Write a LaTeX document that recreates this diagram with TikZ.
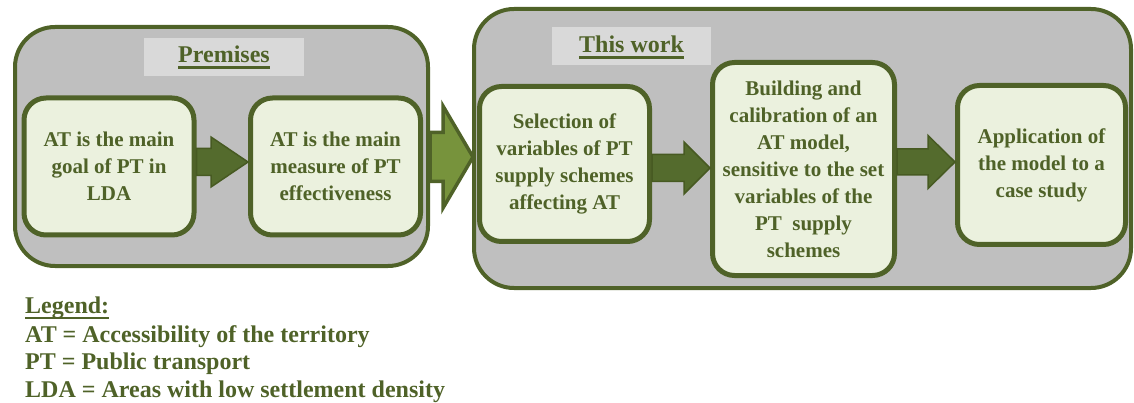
\documentclass[tikz,border=0pt]{standalone}
\usepackage{fontspec}
\setmainfont{Liberation Serif}
\usetikzlibrary{calc}
\definecolor{dkgreen}{HTML}{4F6228}
\definecolor{ltgreen}{HTML}{77933C}
\definecolor{arrgreen}{HTML}{546B2D}
\definecolor{arredge}{HTML}{475A22}
\definecolor{outergray}{HTML}{BFBFBF}
\definecolor{hdrgray}{HTML}{D9D9D9}
\definecolor{boxfill}{HTML}{EBF1DE}
\newcommand\boxfont{\bfseries\fontsize{21}{27}\selectfont}
\newcommand\hdrfont{\bfseries\fontsize{24}{28}\selectfont}
\newcommand\blockarrow[6]{%
  \path[#1] let \p1=(#2), \p2=(#3) in
    (\x1,\y1+#4) -- (\x2-#6,\y1+#4) -- (\x2-#6,\y1+#5) -- (\x2,\y1)
    -- (\x2-#6,\y1-#5) -- (\x2-#6,\y1-#4) -- (\x1,\y1-#4) -- cycle;}
\begin{document}
\begin{tikzpicture}[x=1pt,y=-1pt,
  outerbox/.style={draw=dkgreen, line width=4pt, fill=outergray, rounded corners=40pt, inner sep=0pt},
  hdrbox/.style={fill=hdrgray, inner sep=0pt},
  hdrtext/.style={inner sep=0pt, anchor=base, font=\hdrfont, text=dkgreen},
  uline/.style={draw=dkgreen, line width=3pt},
  inbox/.style={draw=dkgreen, line width=5pt, fill=boxfill, rounded corners=22pt, inner sep=0pt, align=center, font=\boxfont, text=dkgreen},
  smallarrow/.style={fill=arrgreen, draw=arredge, line width=1.5pt, line join=miter},
  bigarrow/.style={fill=ltgreen, draw=dkgreen, line width=3.5pt, line join=miter},
  legtext/.style={inner sep=0pt, anchor=base west, font=\hdrfont, text=dkgreen}
]
\useasboundingbox (0,0) rectangle (1134,403);

% outer groups
\node[outerbox, minimum width=413pt, minimum height=239pt] (prem) at (221.5,146.5) {};
\node[outerbox, minimum width=657pt, minimum height=279pt] (work) at (802.5,148.5) {};

% headers
\node[hdrbox, minimum width=160pt, minimum height=38pt] (premh) at (224,57) {};
\node[hdrtext] (premt) at (224,63) {Premises};
\draw[uline] ([yshift=-5pt]premt.base west) -- ([yshift=-5pt]premt.base east);

\node[hdrbox, minimum width=159pt, minimum height=38pt] (workh) at (631.5,46) {};
\node[hdrtext] (workt) at (631.5,53) {This work};
\draw[uline] ([yshift=-5pt]workt.base west) -- ([yshift=-5pt]workt.base east);

% inner boxes
\node[inbox, minimum width=170pt, minimum height=137pt] (b1) at (109,166.5)
  {AT is the main\\goal of PT in\\LDA};
\node[inbox, minimum width=170pt, minimum height=137pt] (b2) at (335.5,166.5)
  {AT is the main\\measure of PT\\effectiveness};
\node[inbox, minimum width=170pt, minimum height=155pt] (sel) at (564.5,164)
  {Selection of\\variables of PT\\supply schemes\\affecting AT};
\node[inbox, minimum width=182pt, minimum height=213pt] (bld) at (803.5,169)
  {Building and\\calibration of an\\AT model,\\sensitive to the set\\variables of the\\PT~ supply\\schemes};
\node[inbox, minimum width=168pt, minimum height=159pt] (app) at (1041.5,165)
  {Application of\\the model to a\\case study};

% arrows
\blockarrow{smallarrow}{[yshift=4.5pt]b1.east}{b2.west}{13.5pt}{25pt}{37pt}
\blockarrow{smallarrow}{[yshift=-4pt]sel.east}{bld.west}{13.5pt}{26pt}{26pt}
\blockarrow{smallarrow}{[yshift=7pt]bld.east}{app.west}{13pt}{26.5pt}{27pt}
\blockarrow{bigarrow}{[yshift=-10.5pt]prem.east}{[xshift=-4pt]sel.west}{24.5pt}{51pt}{30pt}

% legend
\node[legtext] (lg) at (25,313) {Legend:};
\draw[draw=dkgreen, line width=2.5pt] ([yshift=-5pt]lg.base west) -- ([yshift=-5pt]lg.base east);
\node[legtext] (l1) at (25,342) {AT = Accessibility of the territory};
\node[legtext] (l2) at (25,369) {PT = Public transport};
\node[legtext] (l3) at (25,397) {LDA = Areas with low settlement density};
\end{tikzpicture}
\end{document}
